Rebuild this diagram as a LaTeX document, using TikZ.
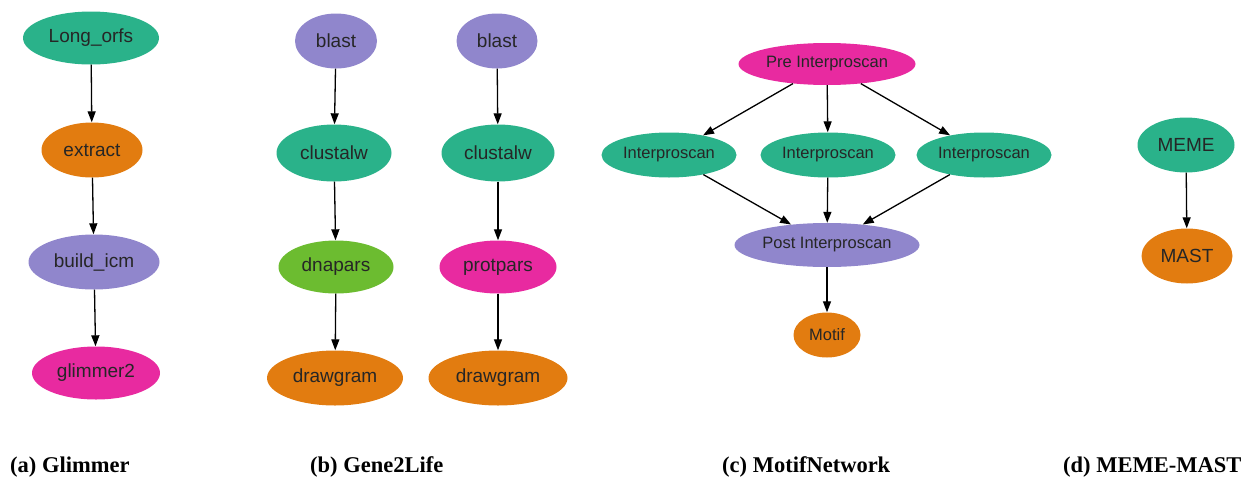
\documentclass[tikz,border=0pt]{standalone}
\usepackage{fontspec}
\setmainfont{Liberation Serif}
\setsansfont{Liberation Sans}
\usetikzlibrary{shapes.geometric,arrows.meta}
\definecolor{cteal}{RGB}{42,178,138}
\definecolor{corange}{RGB}{226,124,16}
\definecolor{cpurple}{RGB}{144,134,204}
\definecolor{cmagenta}{RGB}{232,42,160}
\definecolor{clime}{RGB}{108,188,48}
\tikzset{
  job/.style={ellipse, inner sep=0pt, text=black!85, font=\sffamily\fontsize{19}{19}\selectfont},
  smalljob/.style={job, font=\sffamily\fontsize{16.5}{16.5}\selectfont},
  teal/.style={fill=cteal}, orange/.style={fill=corange}, purple/.style={fill=cpurple},
  magenta/.style={fill=cmagenta}, lime/.style={fill=clime},
  link/.style={draw=black, line width=1.3pt, -{Triangle[length=11pt,width=8pt]}},
  caption/.style={font=\rmfamily\bfseries\fontsize{22.5}{22.5}\selectfont, anchor=base west, inner sep=0pt}
}
\begin{document}
\begin{tikzpicture}[x=1pt,y=-1pt]
\useasboundingbox (0,0) rectangle (1256,477);
% (a) Glimmer
\node[job,teal,minimum width=136pt,minimum height=53pt] (lo) at (91,38) {Long\_orfs};
\node[job,orange,minimum width=101pt,minimum height=55pt] (ex) at (92,150) {extract};
\node[job,purple,minimum width=131pt,minimum height=55pt] (bi) at (94,262) {build\_icm};
\node[job,magenta,minimum width=128pt,minimum height=53pt] (gl) at (96,373) {glimmer2};
\draw[link] (lo) -- (ex);
\draw[link] (ex) -- (bi);
\draw[link] (bi) -- (gl);
\node[caption] (capa) at (10,472) {(a) Glimmer};
% (b) Gene2Life
\node[job,purple,minimum width=82pt,minimum height=55pt] (b1) at (336,41) {blast};
\node[job,teal,minimum width=115pt,minimum height=57pt] (c1) at (334,153) {clustalw};
\node[job,lime,minimum width=115pt,minimum height=53pt] (d1) at (336,267) {dnapars};
\node[job,orange,minimum width=136pt,minimum height=55pt] (g1) at (335,378) {drawgram};
\draw[link] (b1) -- (c1);
\draw[link] (c1) -- (d1);
\draw[link] (d1) -- (g1);
\node[job,purple,minimum width=81pt,minimum height=55pt] (b2) at (497,41) {blast};
\node[job,teal,minimum width=113pt,minimum height=57pt] (c2) at (498,153) {clustalw};
\node[job,magenta,minimum width=117pt,minimum height=53pt] (p2) at (498,267) {protpars};
\node[job,orange,minimum width=139pt,minimum height=55pt] (g2) at (498,378) {drawgram};
\draw[link] (b2) -- (c2);
\draw[link] (c2) -- (p2);
\draw[link] (p2) -- (g2);
\node[caption] (capb) at (310,472) {(b) Gene2Life};
% (c) MotifNetwork
\node[smalljob,magenta,minimum width=177pt,minimum height=42pt] (pre) at (827,64) {Pre Interproscan};
\node[smalljob,teal,minimum width=135pt,minimum height=45pt] (i1) at (669,155) {Interproscan};
\node[smalljob,teal,minimum width=135pt,minimum height=45pt] (i2) at (828,155) {Interproscan};
\node[smalljob,teal,minimum width=135pt,minimum height=45pt] (i3) at (984,155) {Interproscan};
\node[smalljob,purple,minimum width=185pt,minimum height=44pt] (post) at (827,245) {Post Interproscan};
\node[smalljob,orange,minimum width=67pt,minimum height=45pt] (mo) at (827,335) {Motif};
\draw[link] (pre) -- (i1);
\draw[link] (pre) -- (i2);
\draw[link] (pre) -- (i3);
\draw[link] (i1) -- (post);
\draw[link] (i2) -- (post);
\draw[link] (i3) -- (post);
\draw[link] (post) -- (mo);
\node[caption] (capc) at (722,472) {(c) MotifNetwork};
% (d) MEME-MAST
\node[job,teal,minimum width=97pt,minimum height=55pt] (me) at (1186,145) {MEME};
\node[job,orange,minimum width=91pt,minimum height=55pt] (ma) at (1187,256) {MAST};
\draw[link] (me) -- (ma);
\node[caption] (capd) at (1063,472) {(d) MEME-MAST};
\end{tikzpicture}
\end{document}
